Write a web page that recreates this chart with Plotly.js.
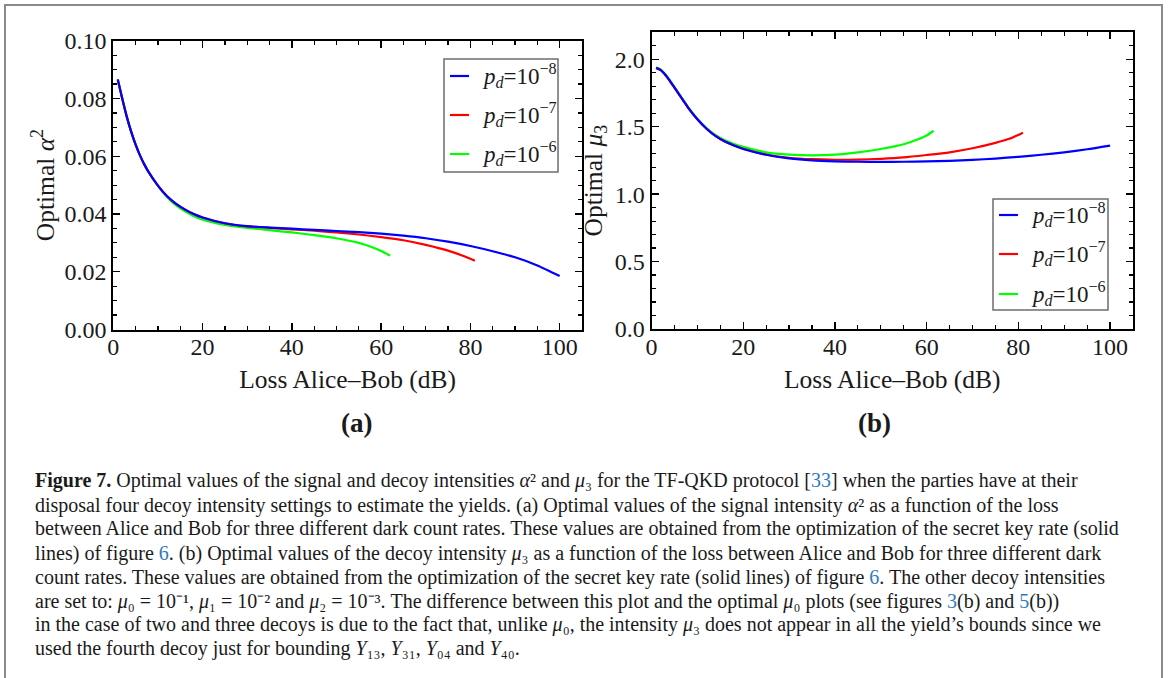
<!DOCTYPE html>
<html>
<head>
<meta charset="utf-8">
<script src="https://cdn.plot.ly/plotly-3.0.1.min.js"></script>
<style>
html,body{margin:0;padding:0;background:#fff;}
#chart{width:1168px;height:678px;}
</style>
</head>
<body>
<div id="chart"></div>
<script>
// ---------------- data ----------------
const seriesNames = ['p_d=1e-8', 'p_d=1e-7', 'p_d=1e-6'];
const legendLabels = [
  '<i>p</i><sub><i>d</i></sub>=10<sup>−8</sup>',
  '<i>p</i><sub><i>d</i></sub>=10<sup>−7</sup>',
  '<i>p</i><sub><i>d</i></sub>=10<sup>−6</sup>'
];
const seriesColors = ['#0000ff', '#ff0000', '#00ff00'];

// Panel (a): optimal alpha^2 vs loss (dB)
const lossA_blue  = [1,2,3,4,5,6,7,8,10,12,14,16,18,20,25,30,35,40,45,50,55,60,65,70,75,80,85,90,95,100];
const alphaA_blue = [0.0866,0.0800,0.0738,0.0685,0.0640,0.0602,0.0570,0.0543,0.0498,0.0462,0.0436,0.0416,0.0400,0.0388,0.0368,0.0358,0.0353,0.0349,0.0345,0.0341,0.0337,0.0332,0.0325,0.0316,0.0304,0.0289,0.0271,0.0250,0.0222,0.0185];
const lossA_red   = [1,2,3,4,5,6,7,8,10,12,14,16,18,20,25,30,35,40,45,50,55,60,65,70,75,80,81];
const alphaA_red  = [0.0866,0.0800,0.0738,0.0685,0.0640,0.0602,0.0570,0.0543,0.0498,0.0462,0.0436,0.0416,0.0400,0.0388,0.0368,0.0357,0.0352,0.0347,0.0342,0.0336,0.0329,0.0320,0.0309,0.0293,0.0273,0.0245,0.0238];
const lossA_green = [1,2,3,4,5,6,7,8,10,12,14,16,18,20,25,30,35,40,45,50,55,58,60,62];
const alphaA_green= [0.0866,0.0800,0.0738,0.0685,0.0640,0.0602,0.0570,0.0543,0.0497,0.0459,0.0431,0.0410,0.0393,0.0380,0.0362,0.0352,0.0344,0.0336,0.0327,0.0316,0.0300,0.0285,0.0272,0.0256];

// Panel (b): optimal mu3 vs loss (dB)
const lossB_blue  = [1,2,3,4,5,6,7,8,10,12,14,16,18,20,25,30,35,40,45,50,55,60,65,70,75,80,85,90,95,100];
const mu3B_blue   = [1.935,1.920,1.885,1.840,1.790,1.740,1.690,1.640,1.555,1.485,1.430,1.390,1.360,1.335,1.292,1.265,1.250,1.243,1.240,1.239,1.240,1.243,1.247,1.254,1.264,1.277,1.292,1.310,1.333,1.360];
const lossB_red   = [1,2,3,4,5,6,7,8,10,12,14,16,18,20,25,30,35,40,45,50,55,60,65,70,75,78,81];
const mu3B_red    = [1.935,1.920,1.885,1.840,1.790,1.740,1.690,1.640,1.555,1.485,1.430,1.390,1.361,1.337,1.294,1.270,1.259,1.255,1.256,1.262,1.272,1.290,1.310,1.340,1.380,1.410,1.456];
const lossB_green = [1,2,3,4,5,6,7,8,10,12,14,16,18,20,25,30,35,40,45,50,55,58,60,61.5];
const mu3B_green  = [1.940,1.925,1.890,1.845,1.795,1.745,1.695,1.645,1.560,1.490,1.437,1.400,1.372,1.350,1.310,1.293,1.288,1.293,1.310,1.335,1.370,1.405,1.435,1.470];

const xTickVals = [0,20,40,60,80,100];
const yTickValsA = [0,0.02,0.04,0.06,0.08,0.10];
const yTickValsB = [0,0.5,1.0,1.5,2.0];

const LINK = "<span style='color:#2e7bbf'>";
const captionLines = [
  "<b>Figure 7.</b> Optimal values of the signal and decoy intensities <i>α</i>² and <i>μ</i>₃ for the TF-QKD protocol [" + LINK + "33</span>] when the parties have at their",
  "disposal four decoy intensity settings to estimate the yields. (a) Optimal values of the signal intensity <i>α</i>² as a function of the loss",
  "between Alice and Bob for three different dark count rates. These values are obtained from the optimization of the secret key rate (solid",
  "lines) of figure " + LINK + "6</span>. (b) Optimal values of the decoy intensity <i>μ</i>₃ as a function of the loss between Alice and Bob for three different dark",
  "count rates. These values are obtained from the optimization of the secret key rate (solid lines) of figure " + LINK + "6</span>. The other decoy intensities",
  "are set to: <i>μ</i>₀ = 10⁻¹, <i>μ</i>₁ = 10⁻² and <i>μ</i>₂ = 10⁻³. The difference between this plot and the optimal <i>μ</i>₀ plots (see figures " + LINK + "3</span>(b) and " + LINK + "5</span>(b))",
  "in the case of two and three decoys is due to the fact that, unlike <i>μ</i>₀, the intensity <i>μ</i>₃ does not appear in all the yield’s bounds since we",
  "used the fourth decoy just for bounding <i>Y</i>₁₃, <i>Y</i>₃₁, <i>Y</i>₀₄ and <i>Y</i>₄₀."
];

// ---------------- layout helpers ----------------
const W = 1168, H = 678;
const fx = px => px / W;
const fy = py => 1 - py / H;
const SERIF = 'Liberation Serif, Times New Roman, serif';
const TXT = '#1a1a1a';

function mk(x, y, i, xa, ya) {
  return {x: x, y: y, type: 'scatter', mode: 'lines', name: seriesNames[i],
          xaxis: xa, yaxis: ya, showlegend: false,
          line: {color: seriesColors[i], width: 2.2, shape: 'spline', smoothing: 0.6},
          hoverinfo: 'x+y'};
}

const traces = [
  mk(lossA_green, alphaA_green, 2, 'x', 'y'),
  mk(lossA_red, alphaA_red, 1, 'x', 'y'),
  mk(lossA_blue, alphaA_blue, 0, 'x', 'y'),
  mk(lossB_green, mu3B_green, 2, 'x2', 'y2'),
  mk(lossB_red, mu3B_red, 1, 'x2', 'y2'),
  mk(lossB_blue, mu3B_blue, 0, 'x2', 'y2')
];

const tickFont = {family: SERIF, size: 24, color: TXT};
const titleFont = {family: SERIF, size: 25.5, color: TXT};

function xAxis(dom, anchor) {
  return {
    domain: dom, anchor: anchor, range: [0, 105],
    showgrid: false, zeroline: false, showline: true, linecolor: '#000', linewidth: 2,
    mirror: 'allticks', ticks: 'inside', ticklen: 7, tickwidth: 1.4, tickcolor: '#000',
    tickvals: xTickVals, tickfont: tickFont, ticklabelstandoff: -5,
    minor: {dtick: 5, tick0: 0, ticks: 'inside', ticklen: 4, tickwidth: 1.2, tickcolor: '#000', showgrid: false},
    title: {text: 'Loss Alice–Bob (dB)', font: titleFont, standoff: 11},
    fixedrange: true
  };
}
function yAxis(dom, anchor, rng, vals, fmt, minorStep, title, standoff) {
  return {
    domain: dom, anchor: anchor, range: rng,
    showgrid: false, zeroline: false, showline: true, linecolor: '#000', linewidth: 2,
    mirror: 'allticks', ticks: 'inside', ticklen: 7, tickwidth: 1.4, tickcolor: '#000',
    tickvals: vals, tickformat: fmt, tickfont: tickFont, ticklabelstandoff: 0,
    minor: {dtick: minorStep, tick0: 0, ticks: 'inside', ticklen: 4, tickwidth: 1.2, tickcolor: '#000', showgrid: false},
    title: {text: title, font: titleFont, standoff: standoff},
    fixedrange: true
  };
}

const shapes = [];
const annotations = [];

// outer figure frame
shapes.push({type: 'rect', xref: 'paper', yref: 'paper', x0: fx(5), x1: fx(1162), y0: fy(700), y1: fy(5),
             line: {color: '#8a8a8a', width: 2}, fillcolor: 'rgba(0,0,0,0)', layer: 'below'});

// manual legends
function legend(box, lineX0, lineX1, textX, rows) {
  shapes.push({type: 'rect', xref: 'paper', yref: 'paper', x0: fx(box[0]), x1: fx(box[1]), y0: fy(box[3]), y1: fy(box[2]),
               line: {color: '#6e6e6e', width: 1.5}, fillcolor: '#ffffff', layer: 'above'});
  for (let i = 0; i < 3; i++) {
    shapes.push({type: 'line', xref: 'paper', yref: 'paper', x0: fx(lineX0), x1: fx(lineX1), y0: fy(rows[i]), y1: fy(rows[i]),
                 line: {color: seriesColors[i], width: 2.2}, layer: 'above'});
    annotations.push({xref: 'paper', yref: 'paper', x: fx(textX), y: fy(rows[i] - 1), xanchor: 'left', yanchor: 'middle',
                      text: legendLabels[i], showarrow: false, font: {family: SERIF, size: 23, color: TXT}});
  }
}
legend([444, 558, 59, 172], 450, 469, 480, [76, 115, 154]);
legend([993, 1108, 199, 310], 999, 1018, 1029, [215, 254, 294]);

// panel labels
annotations.push({xref: 'paper', yref: 'paper', x: fx(339), y: fy(423), text: '<b>(a)</b>', showarrow: false,
                  font: {family: SERIF, size: 27, color: TXT}});
annotations.push({xref: 'paper', yref: 'paper', x: fx(893), y: fy(423), text: '<b>(b)</b>', showarrow: false,
                  font: {family: SERIF, size: 27, color: TXT}});

// caption
const capY = [481, 505, 528, 553, 577, 601, 624, 648];
captionLines.forEach((t, i) => {
  annotations.push({xref: 'paper', yref: 'paper', x: fx(33), y: fy(capY[i]), xanchor: 'left', yanchor: 'middle',
                    text: t, showarrow: false, font: {family: SERIF, size: 20, color: TXT}});
});

const layout = {
  width: W, height: H,
  margin: {l: 0, r: 0, t: 0, b: 0},
  paper_bgcolor: '#ffffff', plot_bgcolor: '#ffffff',
  showlegend: false,
  xaxis: xAxis([fx(113.3), fx(582)], 'y'),
  yaxis: yAxis([fy(329.5), fy(40.7)], 'x', [0, 0.1], yTickValsA, '.2f', 0.005, 'Optimal <i>α</i><sup>2</sup>', 3),
  xaxis2: xAxis([fx(651.5), fx(1133)], 'y2'),
  yaxis2: yAxis([fy(329), fy(32.3)], 'x2', [0, 2.2], yTickValsB, '.1f', 0.1, 'Optimal <i>μ</i><sub>3</sub>', 5),
  shapes: shapes,
  annotations: annotations
};

Plotly.newPlot('chart', traces, layout, {displayModeBar: false, staticPlot: true});
</script>
</body>
</html>
